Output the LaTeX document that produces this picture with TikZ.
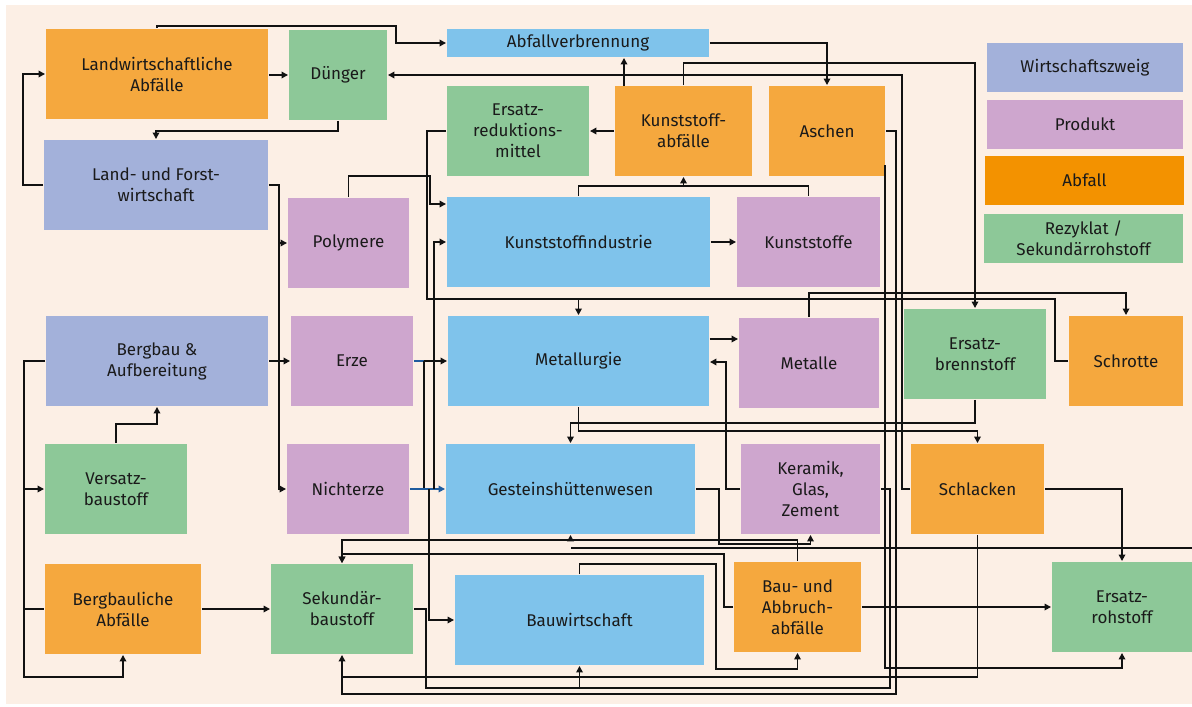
\documentclass[tikz,border=0pt]{standalone}
\usepackage{fontspec}
\setmainfont{Fira Sans}
\usetikzlibrary{arrows.meta,calc}
\definecolor{bgc}{HTML}{FCEFE5}
\definecolor{orng}{HTML}{F5A83E}
\definecolor{grn}{HTML}{8DC898}
\definecolor{slt}{HTML}{A3B1DA}
\definecolor{prp}{HTML}{CEA6CE}
\definecolor{sky}{HTML}{7FC3EB}
\definecolor{abf}{HTML}{F39200}
\definecolor{txt}{HTML}{1A1A1A}
\definecolor{lnc}{HTML}{111111}
\definecolor{dblue}{HTML}{1F5B9E}
\begin{document}
\begin{tikzpicture}[x=1pt,y=-1pt,line width=1.9pt,draw=lnc,
  box/.style={draw=none,inner sep=0pt,align=center,text=txt,font=\fontsize{17}{21}\selectfont},
  wh/.style 2 args={minimum width=#1pt,minimum height=#2pt},
  arr/.style={-{Triangle[length=6.5pt,width=6.5pt]}}]
\useasboundingbox (0,0) rectangle (1192,707);
\fill[white] (0,0) rectangle (1192,707);
\fill[bgc] (6,5) rectangle (1192,704);
% boxes
\node[box,fill=orng,wh={222}{90}] (lwa) at (157,74) {Landwirtschaftliche\\Abfälle};
\node[box,fill=grn,wh={98}{90}] (dung) at (338,75) {Dünger};
\node[box,fill=slt,wh={224}{90}] (luf) at (156,185) {Land- und Forst-\\wirtschaft};
\node[box,fill=prp,wh={121}{90}] (poly) at (348.5,243) {Polymere};
\node[box,fill=sky,wh={262}{28}] (abv) at (578,43) {Abfallverbrennung};
\node[box,fill=grn,wh={142}{90}] (erm) at (518,131) {Ersatz-\\reduktions-\\mittel};
\node[box,fill=orng,wh={137}{90}] (kab) at (683.5,131) {Kunststoff-\\abfälle};
\node[box,fill=orng,wh={116}{90}] (asch) at (827,131) {Aschen};
\node[box,fill=sky,wh={263}{90}] (kind) at (578.5,242) {Kunststoffindustrie};
\node[box,fill=prp,wh={143}{90}] (kst) at (808.5,242) {Kunststoffe};
\node[box,fill=slt,wh={196}{49}] (lg1) at (1085,67.5) {Wirtschaftszweig};
\node[box,fill=prp,wh={196}{49}] (lg2) at (1085,124.5) {Produkt};
\node[box,fill=abf,wh={199}{49}] (lg3) at (1084.5,180.5) {Abfall};
\node[box,fill=grn,wh={199}{49}] (lg4) at (1083.5,238.5) {Rezyklat /\\Sekundärrohstoff};
\node[box,fill=slt,wh={222}{90}] (berg) at (157,361) {Bergbau \&\\Aufbereitung};
\node[box,fill=prp,wh={122}{90}] (erze) at (352,361) {Erze};
\node[box,fill=grn,wh={142}{90}] (vers) at (116,489) {Versatz-\\baustoff};
\node[box,fill=prp,wh={122}{90}] (nerz) at (348,489) {Nichterze};
\node[box,fill=orng,wh={156}{90}] (bga) at (123,609) {Bergbauliche\\Abfälle};
\node[box,fill=grn,wh={142}{90}] (sek) at (342,609) {Sekundär-\\baustoff};
\node[box,fill=sky,wh={261}{90}] (met) at (578.5,361) {Metallurgie};
\node[box,fill=prp,wh={140}{90}] (metl) at (809,363) {Metalle};
\node[box,fill=sky,wh={249}{90}] (ghw) at (570.5,489) {Gesteinshüttenwesen};
\node[box,fill=prp,wh={139}{90}] (ker) at (810.5,489) {Keramik,\\Glas,\\Zement};
\node[box,fill=sky,wh={249}{90}] (bau) at (579.5,620) {Bauwirtschaft};
\node[box,fill=orng,wh={127}{90}] (baa) at (797.5,607) {Bau- und\\Abbruch-\\abfälle};
\node[box,fill=grn,wh={142}{90}] (ebr) at (975,354) {Ersatz-\\brennstoff};
\node[box,fill=orng,wh={114}{90}] (schr) at (1126,361) {Schrotte};
\node[box,fill=orng,wh={133}{90}] (schl) at (977.5,489) {Schlacken};
\node[box,fill=grn,wh={140}{90}] (erh) at (1122,607) {Ersatz-\\rohstoff};
% connectors
\draw[arr] (lwa.north) |- (396,26) |- (abv.west);
\draw[arr] (lwa.east |- dung.west) -- (dung.west);
\draw[arr] (dung.south) -- ++(0,10) -| (luf.north);
\draw[arr] (luf.west) -| (23,74) -- (lwa.west);
\draw[arr] (schl.west) -| (902,75) -- (dung.east);
\draw[arr] (kab.north) -- ++(0,-22) -| (ebr.north);
\coordinate (k1) at (624,86);
\draw[arr] (k1) -- (k1 |- abv.south);
\draw[arr] (kab.west) -- (erm.east);
\draw[arr] (abv.east) -| (asch.north);
\draw (kind.north) -- ++(0,-10) -| (kst.north);
\draw[arr] (kab.south |- 0,187) -- (kab.south);
\draw[arr] (kind.east) -- (kst.west);
\draw[arr] (poly.north) |- (430,176) |- (kind.west |- 0,204);
\draw[arr] (erm.west) -| (427,299) -| (met.north);
\draw (schr.west) -| (1055,299) -- (met.north |- 0,299);
\draw[arr] (metl.north) -- ++(0,-24) -| (schr.north);
\draw[arr] (met.east |- 0,339) -- (metl.west |- 0,339);
\draw[arr] (ker.west) -| (726,362) -- (met.east |- 0,362);
\draw[arr] (ghw.east) -| (719,544) -| (ker.south);
\draw[arr] (baa.north) |- (ghw.south |- 0,540) -- (ghw.south);
\draw[arr] (ghw.south |- 0,540) -| (sek.north);
\draw (1192,548) -- (ghw.south |- 0,548);
\draw[arr] (baa.west) -| (724,554) -| (sek.north);
\draw[arr] (bau.north) |- (716,564) -- (716,669) -| (baa.south);
\draw[arr] (baa.east) -- (erh.west |- baa.east);
\draw[arr] (schl.east) -| (erh.north);
\draw[arr] (met.south) -- ++(0,24) -| (schl.north);
\draw[arr] (ebr.south) -- ++(0,23) -| (ghw.north);
\draw[arr] (885,165) |- (erh.south |- 0,668) -- (erh.south);
\draw[arr] (asch.east) -| (896,694) -| (sek.south);
\draw[arr] (ker.east) -| (890,688) -| (bau.south);
\draw (sek.east) -| (426,688) -- (bau.south |- 0,688);
\draw (schl.south) |- (sek.south |- 0,677);
\draw[dblue] (erze.east) -- (424,361);
\draw[arr] (424,361) -- (met.west);
\draw (424,361) -- (424,489);
\draw[arr,dblue] (nerz.east) -- (ghw.west);
\draw[arr] (434,489) |- (kind.west);
\draw[arr] (429,489) |- (bau.west);
\draw[arr] (luf.east) -| (279,489) -- (nerz.west);
\draw[arr] (279,243) -- (poly.west);
\draw[arr] (279,361) -- (erze.west);
\draw (berg.east) -- (279,361);
\draw[arr] (berg.west) -| (24,677) -| (bga.south);
\draw[arr] (24,489) -- (vers.west);
\draw (24,609) -- (bga.west);
\draw[arr] (vers.north) -- ++(0,-19) -| (berg.south);
\draw[arr] (bga.east) -- (sek.west);
\end{tikzpicture}
\end{document}
